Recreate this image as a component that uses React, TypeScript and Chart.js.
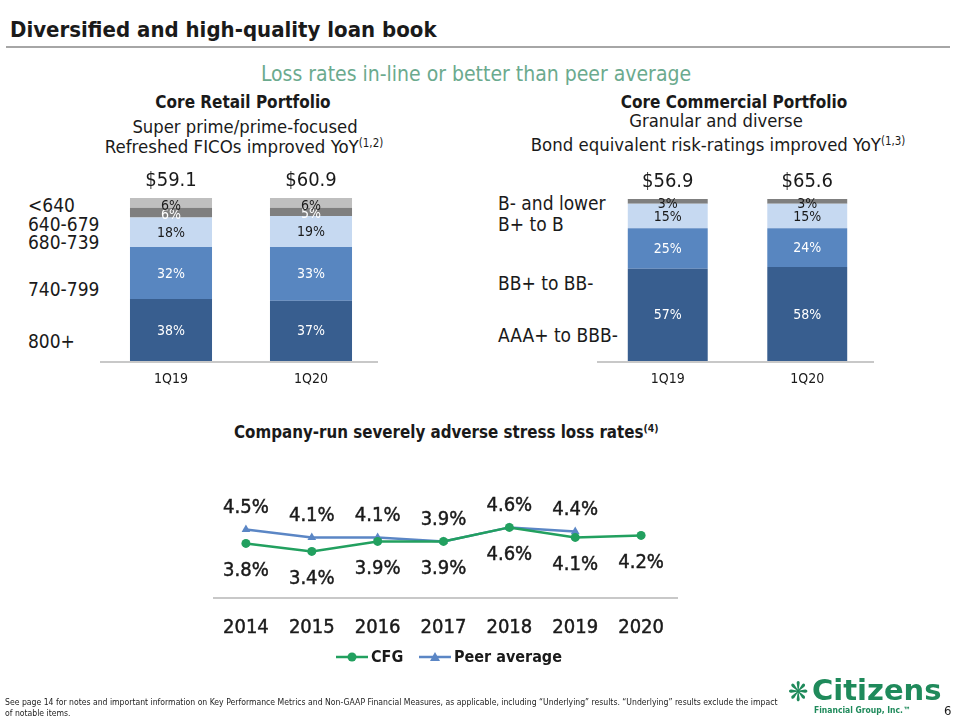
import React, { useEffect, useRef } from "react";
import { Chart, registerables } from "chart.js";

Chart.register(...registerables);

// ---------- data ----------
const retailCategories = ["1Q19", "1Q20"];
const retailBands = ["800+", "740-799", "680-739", "640-679", "<640"];
const retail800 = [38, 37];
const retail740 = [32, 33];
const retail680 = [18, 19];
const retail640 = [6, 5];
const retailBelow640 = [6, 6];
const retailTotals = ["$59.1", "$60.9"];

const commercialCategories = ["1Q19", "1Q20"];
const commercialBands = ["AAA+ to BBB-", "BB+ to BB-", "B+ to B", "B- and lower"];
const commAAA = [57, 58];
const commBB = [25, 24];
const commB = [15, 15];
const commBminus = [3, 3];
const commercialTotals = ["$56.9", "$65.6"];

const years = ["2014", "2015", "2016", "2017", "2018", "2019", "2020"];
const cfgRates = [3.8, 3.4, 3.9, 3.9, 4.6, 4.1, 4.2];
const peerRates = [4.5, 4.1, 4.1, 3.9, 4.6, 4.4, null];
const seriesNames = ["CFG", "Peer average"];

// ---------- style ----------
const SANS = '"DejaVu Sans Condensed", "DejaVu Sans", sans-serif';
const WIDE = '"DejaVu Sans", sans-serif';
const NARROW = '"Liberation Sans Narrow", "DejaVu Sans Condensed", sans-serif';
const DARK_BLUE = "#385E8F";
const MID_BLUE = "#5886C0";
const LIGHT_BLUE = "#C6D9F1";
const DARK_GREY = "#7F7F7F";
const LIGHT_GREY = "#BFBFBF";
const GREEN = "#22A05F";
const LINE_BLUE = "#5B86C5";
const TEXT = "#1A1A1A";
const LOGO_GREEN = "#1F8A5B";

function T(props: {
  x: number; y: number; size: number; bold?: boolean; color?: string;
  align?: "left" | "center"; family?: string; children: React.ReactNode;
}) {
  const { x, y, size, bold, color, align = "left", family = SANS, children } = props;
  return (
    <div
      style={{
        position: "absolute",
        left: x,
        top: y,
        transform: align === "center" ? "translate(-50%, -50%)" : "translate(0, -50%)",
        fontFamily: family,
        fontSize: size,
        fontWeight: bold ? 700 : 400,
        color: color || TEXT,
        whiteSpace: "nowrap",
        lineHeight: 1,
      }}
    >
      {children}
    </div>
  );
}

function barPlugin(totals: string[], labelColors: string[]) {
  return {
    id: "barLabels",
    afterDatasetsDraw(chart: any) {
      const ctx = chart.ctx;
      ctx.save();
      ctx.textAlign = "center";
      ctx.textBaseline = "middle";
      ctx.font = `400 14px ${NARROW}`;
      chart.data.datasets.forEach((ds: any, di: number) => {
        const meta = chart.getDatasetMeta(di);
        meta.data.forEach((el: any, i: number) => {
          ctx.fillStyle = labelColors[di];
          const h = Math.abs(el.base - el.y);
          const dy = h < 12 ? 2 : 0;
          ctx.fillText(`${ds.data[i]}%`, el.x, (el.y + el.base) / 2 + 1 + dy);
        });
      });
      const last = chart.getDatasetMeta(chart.data.datasets.length - 1);
      ctx.fillStyle = TEXT;
      ctx.font = `400 20px ${SANS}`;
      last.data.forEach((el: any, i: number) => {
        ctx.fillText(totals[i], el.x, el.y - 17);
      });
      const yb = chart.scales.y.getPixelForValue(0);
      const { left, right } = chart.chartArea;
      ctx.strokeStyle = "#C8C8C8";
      ctx.lineWidth = 2;
      ctx.beginPath();
      ctx.moveTo(left - 1, yb + 1);
      ctx.lineTo(right - 3, yb + 1);
      ctx.stroke();
      ctx.fillStyle = TEXT;
      ctx.font = `400 14px ${NARROW}`;
      chart.data.labels.forEach((lab: string, i: number) => {
        ctx.fillText(lab, chart.scales.x.getPixelForValue(i), yb + 18);
      });
      ctx.restore();
    },
  };
}

function heavyText(ctx: CanvasRenderingContext2D, s: string, x: number, y: number) {
  ctx.fillText(s, x, y);
  ctx.strokeText(s, x, y);
}

const linePlugin = {
  id: "lineLabels",
  afterDatasetsDraw(chart: any) {
    const ctx = chart.ctx;
    const { left, right, bottom } = chart.chartArea;
    ctx.save();
    // baseline
    ctx.strokeStyle = "#C8C8C8";
    ctx.lineWidth = 2;
    ctx.beginPath();
    ctx.moveTo(left, bottom);
    ctx.lineTo(right + 4, bottom);
    ctx.stroke();
    // year labels
    ctx.textAlign = "center";
    ctx.textBaseline = "middle";
    ctx.fillStyle = TEXT;
    ctx.strokeStyle = TEXT;
    ctx.lineWidth = 0.45;
    ctx.font = `400 20px ${SANS}`;
    chart.data.labels.forEach((lab: string, i: number) => {
      heavyText(ctx, lab, chart.scales.x.getPixelForValue(i), bottom + 30);
    });
    // data labels: CFG below, peer above
    const offsets = [27, -22];
    chart.data.datasets.forEach((ds: any, di: number) => {
      const meta = chart.getDatasetMeta(di);
      meta.data.forEach((el: any, i: number) => {
        const v = ds.data[i];
        if (v === null || v === undefined) return;
        heavyText(ctx, `${v.toFixed(1)}%`, el.x, el.y + offsets[di]);
      });
    });
    // legend
    const ly = bottom + 59;
    const items = [
      { x: 336, ds: chart.data.datasets[0] },
      { x: 419, ds: chart.data.datasets[1] },
    ];
    ctx.textAlign = "left";
    ctx.font = `700 16px ${SANS}`;
    items.forEach((it) => {
      ctx.strokeStyle = it.ds.borderColor;
      ctx.lineWidth = 2.5;
      ctx.beginPath();
      ctx.moveTo(it.x, ly);
      ctx.lineTo(it.x + 32, ly);
      ctx.stroke();
      ctx.fillStyle = it.ds.borderColor;
      const cx = it.x + 16;
      ctx.beginPath();
      if (it.ds.pointStyle === "triangle") {
        ctx.moveTo(cx, ly - 5);
        ctx.lineTo(cx + 5, ly + 4);
        ctx.lineTo(cx - 5, ly + 4);
        ctx.closePath();
      } else {
        ctx.arc(cx, ly, 4.5, 0, Math.PI * 2);
      }
      ctx.fill();
      ctx.fillStyle = TEXT;
      ctx.fillText(it.ds.label, it.x + 35, ly + 1);
    });
    ctx.restore();
  },
};

function useChart(ref: React.RefObject<HTMLCanvasElement>, build: () => any) {
  useEffect(() => {
    if (!ref.current) return;
    const chart = new Chart(ref.current, build());
    return () => chart.destroy();
  }, []);
}

function barConfig(
  labels: string[],
  series: number[][],
  names: string[],
  colors: string[],
  labelColors: string[],
  totals: string[],
  area: { left: number; right: number; top: number; bottom: number },
  barPct: number
) {
  return {
    type: "bar",
    data: {
      labels,
      datasets: series.map((d, i) => ({
        label: names[i],
        data: d,
        backgroundColor: colors[i],
        borderWidth: 0,
        categoryPercentage: 1,
        barPercentage: barPct,
      })),
    },
    options: {
      animation: false,
      responsive: false,
      devicePixelRatio: 1,
      layout: {
        padding: { left: area.left, right: 960 - area.right, top: area.top, bottom: 720 - area.bottom },
      },
      plugins: { legend: { display: false }, tooltip: { enabled: false } },
      scales: {
        x: { stacked: true, display: false },
        y: { stacked: true, display: false, min: 0, max: 100 },
      },
    },
    plugins: [barPlugin(totals, labelColors)],
  };
}

const canvasStyle: React.CSSProperties = { position: "absolute", left: 0, top: 0, width: 960, height: 720 };

export default function App() {
  const retailRef = useRef<HTMLCanvasElement>(null);
  const commRef = useRef<HTMLCanvasElement>(null);
  const lineRef = useRef<HTMLCanvasElement>(null);

  useChart(retailRef, () =>
    barConfig(
      retailCategories,
      [retail800, retail740, retail680, retail640, retailBelow640],
      retailBands,
      [DARK_BLUE, MID_BLUE, LIGHT_BLUE, DARK_GREY, LIGHT_GREY],
      ["#FFFFFF", "#FFFFFF", TEXT, "#FFFFFF", TEXT],
      retailTotals,
      { left: 101, right: 381, top: 198, bottom: 361 },
      0.586
    )
  );

  useChart(commRef, () =>
    barConfig(
      commercialCategories,
      [commAAA, commBB, commB, commBminus],
      commercialBands,
      [DARK_BLUE, MID_BLUE, LIGHT_BLUE, DARK_GREY],
      ["#FFFFFF", "#FFFFFF", TEXT, TEXT],
      commercialTotals,
      { left: 598, right: 877, top: 199, bottom: 361 },
      0.573
    )
  );

  useChart(lineRef, () => ({
    type: "line",
    data: {
      labels: years,
      datasets: [
        {
          label: seriesNames[0],
          data: cfgRates,
          borderColor: GREEN,
          backgroundColor: GREEN,
          borderWidth: 2.5,
          pointStyle: "circle",
          pointRadius: 4.5,
          pointBorderWidth: 0,
          tension: 0,
        },
        {
          label: seriesNames[1],
          data: peerRates,
          borderColor: LINE_BLUE,
          backgroundColor: LINE_BLUE,
          borderWidth: 2.5,
          pointStyle: "triangle",
          pointRadius: 5,
          pointBorderWidth: 0,
          tension: 0,
        },
      ],
    },
    options: {
      animation: false,
      responsive: false,
      devicePixelRatio: 1,
      layout: { padding: { left: 213, right: 960 - 674, top: 458, bottom: 720 - 598 } },
      plugins: { legend: { display: false }, tooltip: { enabled: false } },
      scales: {
        x: { display: false, offset: true },
        y: { display: false, min: 1.07, max: 8.07 },
      },
    },
    plugins: [linePlugin],
  }));

  const sup = (s: string) => (
    <span style={{ fontSize: "0.62em", verticalAlign: "0.55em" }}>{s}</span>
  );

  return (
    <div style={{ position: "absolute", left: 0, top: 0, width: 960, height: 720, background: "#fff", overflow: "hidden" }}>
      <T x={10} y={30} size={22} bold>Diversified and high-quality loan book</T>
      <div style={{ position: "absolute", left: 6, top: 46, width: 944, height: 2, background: "#A6A6A6" }} />
      <T x={476} y={74} size={21} color="#6BAA8E" align="center">Loss rates in-line or better than peer average</T>

      <T x={243} y={102} size={17} bold align="center">Core Retail Portfolio</T>
      <T x={245} y={127} size={18.3} align="center">Super prime/prime-focused</T>
      <T x={244} y={147} size={18.5} align="center">Refreshed FICOs improved YoY{sup("(1,2)")}</T>

      <T x={734} y={102} size={17} bold align="center">Core Commercial Portfolio</T>
      <T x={716} y={121} size={18.3} align="center">Granular and diverse</T>
      <T x={718} y={145} size={18.4} align="center">Bond equivalent risk-ratings improved YoY{sup("(1,3)")}</T>

      <T x={28} y={205} size={19}>{retailBands[4]}</T>
      <T x={28} y={224} size={19}>{retailBands[3]}</T>
      <T x={28} y={242} size={19}>{retailBands[2]}</T>
      <T x={28} y={289} size={19}>{retailBands[1]}</T>
      <T x={28} y={341} size={19}>{retailBands[0]}</T>

      <T x={498} y={203} size={19}>{commercialBands[3]}</T>
      <T x={498} y={224} size={19}>{commercialBands[2]}</T>
      <T x={498} y={283} size={19}>{commercialBands[1]}</T>
      <T x={498} y={335} size={19}>{commercialBands[0]}</T>

      <T x={234} y={432} size={16.8} bold>Company-run severely adverse stress loss rates{sup("(4)")}</T>

      <canvas ref={retailRef} width={960} height={720} style={canvasStyle} />
      <canvas ref={commRef} width={960} height={720} style={canvasStyle} />
      <canvas ref={lineRef} width={960} height={720} style={canvasStyle} />

      <div style={{ position: "absolute", left: 5, top: 697, fontFamily: SANS, fontSize: 8.6, lineHeight: "11px", color: "#222", whiteSpace: "nowrap" }}>
        See page 14 for notes and important information on Key Performance Metrics and Non-GAAP Financial Measures, as applicable, including “Underlying” results. “Underlying” results exclude the impact
        <br />of notable items.
      </div>
      <T x={788} y={691} size={27} bold color={LOGO_GREEN}>❋</T>
      <T x={812} y={690} size={29} bold color={LOGO_GREEN} family={WIDE}>Citizens</T>
      <T x={814} y={710} size={8.5} bold color={LOGO_GREEN}>Financial Group, Inc.™</T>
      <T x={944} y={710} size={13}>6</T>
    </div>
  );
}
